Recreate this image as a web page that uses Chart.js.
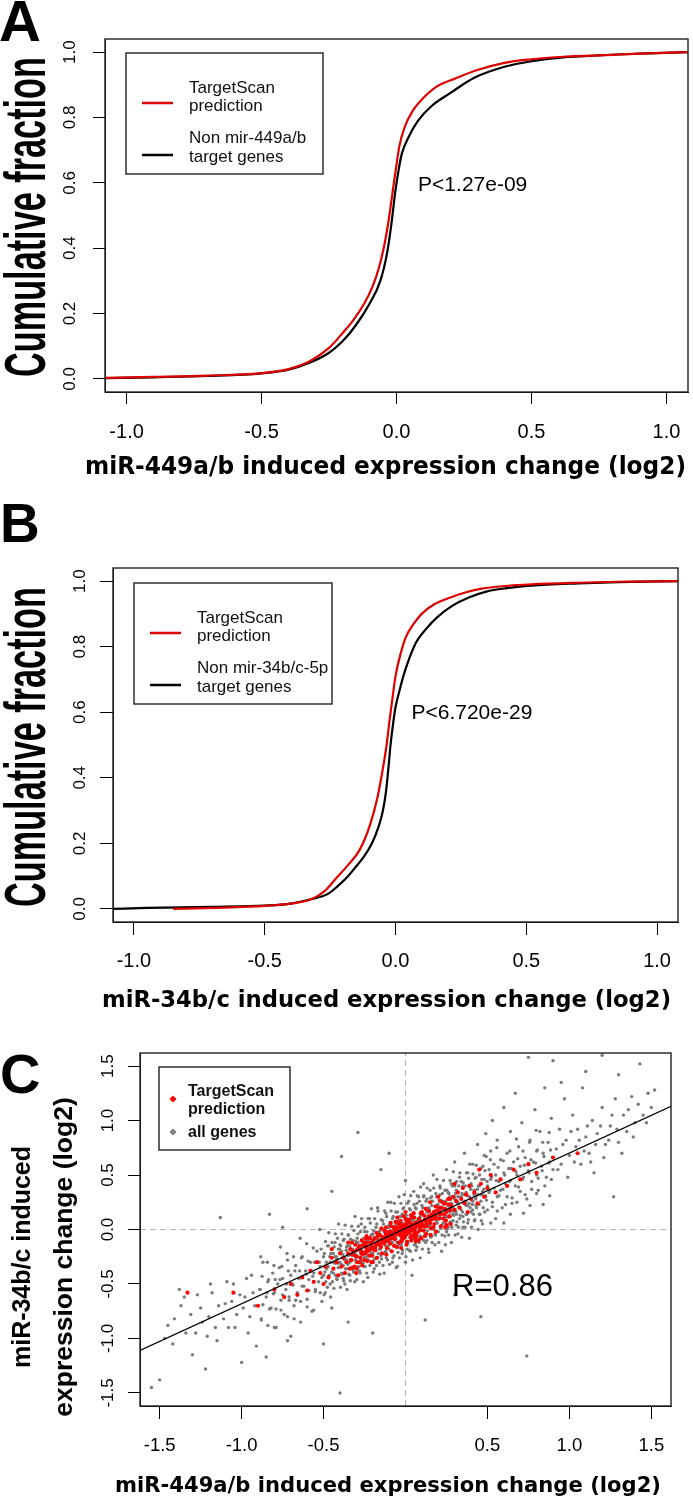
<!DOCTYPE html>
<html><head><meta charset="utf-8">
<script src="https://cdn.jsdelivr.net/npm/chart.js@4.4.1/dist/chart.umd.min.js"></script>
<style>
html,body{margin:0;padding:0;background:#fff;}
body{width:693px;height:1501px;position:relative;overflow:hidden;}
canvas{position:absolute;left:0;}
.lbl{position:absolute;font-family:'Liberation Sans',Arial,sans-serif;font-weight:bold;line-height:1;color:#000;}
</style></head><body>
<canvas id="cA" width="693" height="485" style="top:0;width:693px;height:485px"></canvas>
<canvas id="cB" width="693" height="545" style="top:485px;width:693px;height:545px"></canvas>
<canvas id="cC" width="693" height="471" style="top:1030px;width:693px;height:471px"></canvas>
<div class="lbl" style="top:-8px;left:-1px;font-size:58px">A</div>
<div class="lbl" style="top:496px;left:0;font-size:55px">B</div>
<div class="lbl" style="top:1046px;left:0;font-size:56px">C</div>
<script>
// ---------- data ----------
const cdfTicksX = [-1.0, -0.5, 0.0, 0.5, 1.0];
const cdfTicksY = [0.0, 0.2, 0.4, 0.6, 0.8, 1.0];

const aRedX = [-1.08,-0.9,-0.7,-0.5,-0.4,-0.32,-0.25,-0.2,-0.16,-0.12,-0.09,-0.065,-0.045,-0.03,-0.018,-0.008,0.0,0.01,0.03,0.06,0.1,0.15,0.22,0.3,0.4,0.5,0.6,0.75,0.9,1.08];
const aRedY = [0.003,0.006,0.01,0.018,0.03,0.055,0.095,0.14,0.18,0.23,0.28,0.34,0.41,0.48,0.55,0.61,0.655,0.71,0.77,0.82,0.86,0.895,0.92,0.945,0.967,0.978,0.985,0.99,0.995,1.0];
const aBlkX = [-1.08,-0.9,-0.7,-0.5,-0.4,-0.32,-0.25,-0.2,-0.15,-0.1,-0.06,-0.035,-0.018,-0.005,0.008,0.02,0.045,0.08,0.13,0.2,0.29,0.4,0.5,0.6,0.75,0.9,1.08];
const aBlkY = [0.002,0.005,0.009,0.017,0.028,0.05,0.08,0.115,0.165,0.23,0.3,0.385,0.48,0.57,0.64,0.69,0.74,0.79,0.835,0.875,0.922,0.955,0.972,0.982,0.99,0.995,1.0];

const bRedX = [-0.85,-0.7,-0.5,-0.4,-0.32,-0.27,-0.226,-0.18,-0.137,-0.1,-0.069,-0.05,-0.034,-0.022,-0.012,0.0,0.02,0.04,0.07,0.1,0.15,0.21,0.27,0.33,0.42,0.52,0.7,0.85,1.08];
const bRedY = [0.0,0.003,0.009,0.016,0.03,0.055,0.094,0.135,0.18,0.25,0.34,0.42,0.5,0.58,0.64,0.71,0.78,0.83,0.87,0.9,0.93,0.95,0.966,0.977,0.985,0.99,0.995,0.998,1.0];
const bBlkX = [-1.08,-0.95,-0.7,-0.5,-0.4,-0.32,-0.26,-0.22,-0.188,-0.15,-0.12,-0.09,-0.065,-0.048,-0.036,-0.027,-0.019,-0.01,0.0,0.015,0.03,0.053,0.08,0.118,0.16,0.218,0.28,0.347,0.42,0.52,0.7,0.85,1.08];
const bBlkY = [0.0,0.003,0.006,0.01,0.016,0.03,0.045,0.07,0.094,0.13,0.16,0.2,0.25,0.3,0.36,0.43,0.5,0.56,0.615,0.665,0.71,0.765,0.815,0.855,0.89,0.925,0.95,0.968,0.978,0.986,0.993,0.997,1.0];

const legendA = [['TargetScan','prediction'],['Non mir-449a/b','target genes']];
const legendB = [['TargetScan','prediction'],['Non mir-34b/c-5p','target genes']];
const pTextA = 'P<1.27e-09';
const pTextB = 'P<6.720e-29';

const scatTicksX = [-1.5, -1.0, -0.5, 0.5, 1.0, 1.5];
const scatTicksY = [-1.5, -1.0, -0.5, 0.0, 0.5, 1.0, 1.5];
const fitX = [-1.62, 1.62];
const fitY = [-1.11, 1.13];
const rText = 'R=0.86';
const legendC = [['TargetScan','prediction'],['all genes']];

const grayPts = [
[-1.55,-1.45],[-1.5,-1.38],[-1.45,-0.88],[-1.42,-1.05],[-1.38,-0.55],[-1.35,-0.62],[-1.3,-1.15],[-1.28,-0.95],[-1.25,-0.72],[-1.22,-1.28],[-1.2,-0.8],[-1.18,-0.58],[-1.15,-1.02],[-1.13,0.11],[-1.1,-0.68],[-1.08,-0.9],[-1.05,-0.5],[-1.03,-0.78],[-1.0,-1.22],[-0.98,-0.62],[-0.96,-0.95],[-0.94,-0.42],[-0.92,-0.7],[-0.91,-1.07],
[-0.89,-0.55],[-0.88,-0.82],[-0.87,-0.3],[-0.85,-1.17],[-0.85,-0.62],[-0.84,-0.48],[-0.83,0.14],[-0.82,-0.72],[-0.81,-0.4],[-0.8,-0.58],[-0.79,-0.9],[-0.78,-0.5],[-0.77,-0.35],[-0.76,-0.65],[-0.75,-0.45],[-0.74,-0.78],[-0.73,-0.55],[-0.72,-0.28],[-0.71,-0.62],[-0.7,-0.42],[-0.7,-0.98],[-0.69,-0.5],[-0.68,-0.7],[-0.67,-0.33],[-0.66,-0.58],[-0.65,-0.45],[-0.64,-0.85],[-0.63,-0.25],[-0.62,-0.52],[-0.61,-0.38],[-0.6,0.19],[-0.6,-0.64],[-0.59,-0.46],[-0.58,-0.3],[-0.57,-0.75],[-0.56,-0.4],[-0.55,-0.55],[-0.54,-0.2],[-0.53,-0.48],[-0.52,-0.34],[-0.51,-0.66],[-0.5,-0.42],[-0.5,-0.25],[-0.49,-0.58],[-0.48,-0.36],[-0.47,-0.15],[-0.46,-0.5],[-0.46,-0.3],[-0.45,-0.72],[-0.4,-1.5],[-0.72,-1.02],
[-0.44,-0.4],[-0.44,-0.22],[-0.43,-0.31],[-0.43,-0.12],[-0.42,-0.45],[-0.42,-0.27],[-0.41,-0.35],[-0.41,-0.18],
[-0.4,-0.3],[-0.39,-0.4],[-0.39,-0.2],[-0.38,-0.1],[-0.38,-0.33],[-0.37,-0.26],[-0.37,-0.5],[-0.36,-0.16],
[-0.36,-0.36],[-0.35,-0.24],[-0.35,-0.05],[-0.34,-0.3],[-0.34,-0.42],[-0.33,-0.18],[-0.33,-0.28],[-0.32,-0.1],[-0.32,-0.37],
[-0.31,-0.22],[-0.31,-0.48],[-0.3,-0.14],[-0.3,-0.3],[-0.29,-0.04],[-0.29,-0.25],[-0.28,-0.38],[-0.28,-0.18],[-0.27,0.05],[-0.27,-0.28],
[-0.26,-0.12],[-0.26,-0.22],[-0.25,-0.34],[-0.25,-0.02],[-0.24,-0.16],[-0.24,-0.26],[-0.23,-0.44],[-0.23,-0.08],[-0.22,-0.2],[-0.22,0.1],[-0.21,-0.3],
[-0.21,-0.12],[-0.2,-0.04],[-0.2,-0.22],[-0.19,-0.36],[-0.19,-0.15],[-0.18,0.02],[-0.18,-0.26],[-0.17,-0.09],[-0.17,0.2],[-0.16,-0.18],[-0.16,-0.3],
[-0.15,-0.06],[-0.15,-0.12],[-0.14,0.08],[-0.14,-0.22],[-0.13,-0.02],[-0.13,-0.4],[-0.12,-0.15],[-0.12,0.15],[-0.11,-0.08],[-0.11,-0.28],[-0.1,0.04],
[-0.1,-0.18],[-0.09,-0.05],[-0.09,0.25],[-0.08,-0.12],[-0.08,0.1],[-0.07,-0.24],[-0.07,0.0],[-0.06,-0.08],[-0.06,0.16],[-0.05,-0.34],[-0.05,0.05],
[-0.04,-0.14],[-0.04,0.3],[-0.03,-0.02],[-0.03,0.12],[-0.02,-0.22],[-0.02,0.06],[-0.01,-0.08],[-0.01,0.2],[0.0,-0.3],[0.0,0.02],[0.0,0.45],
[0.01,-0.12],[0.01,0.1],[0.02,-0.04],[0.02,0.26],[0.03,-0.2],[0.03,0.04],[0.04,0.14],[0.04,-0.42],[0.05,-0.08],[0.05,0.35],[0.06,0.0],
[0.06,0.2],[0.07,-0.16],[0.07,0.08],[0.08,-0.02],[0.08,0.3],[0.09,0.12],[0.09,-0.26],[0.1,0.04],[0.1,0.22],[0.11,-0.1],[0.11,0.42],
[0.12,0.1],[0.12,-0.04],[0.13,0.28],[0.13,0.16],[0.14,-0.18],[0.14,0.05],[0.15,0.36],[0.15,0.12],[0.16,-0.06],[0.16,0.22],[0.17,0.02],
[0.17,0.5],[0.18,0.14],[0.18,-0.14],[0.19,0.3],[0.19,0.08],[0.2,0.2],[0.2,-0.02],[0.21,0.4],[0.21,0.12],[0.22,-0.2],[0.22,0.26],
[0.23,0.06],[0.23,0.18],[0.24,0.36],[0.24,-0.06],[0.25,0.12],[0.25,0.55],[0.26,0.22],[0.26,0.02],[0.27,0.3],[0.27,0.16],[0.28,-0.12],
[0.28,0.42],[0.29,0.2],[0.29,0.08],[0.3,0.28],[0.3,0.62],[0.31,0.14],[0.31,0.36],[0.32,-0.04],[0.32,0.24],[0.33,0.48],[0.33,0.1],
[0.34,0.3],[0.34,0.18],[0.35,0.4],[0.35,0.02],[0.36,0.26],[0.36,0.7],[0.37,0.14],[0.37,0.34],[0.38,0.52],[0.38,0.22],[0.39,-0.08],
[0.39,0.3],[0.4,0.42],[0.4,0.16],[0.41,0.6],[0.41,0.26],[0.42,0.36],[0.42,0.08],[0.43,0.48],[0.43,0.22],[0.44,0.32],[0.44,0.78],[0.45,0.14],
[-0.43,-0.25],[-0.4,-0.14],[-0.38,-0.45],[-0.36,-0.28],[-0.34,-0.15],[-0.32,-0.24],[-0.3,-0.36],[-0.29,-0.12],[-0.27,-0.2],[-0.26,-0.31],[-0.24,-0.1],[-0.23,-0.24],[-0.21,-0.05],[-0.2,-0.16],[-0.19,-0.27],[-0.17,-0.13],[-0.16,-0.02],[-0.15,-0.24],[-0.13,-0.09],[-0.12,-0.2],[-0.11,0.02],[-0.1,-0.12],[-0.08,-0.3],[-0.07,-0.06],[-0.06,0.04],[-0.05,-0.16],[-0.04,0.08],[-0.03,-0.1],[-0.02,0.14],[-0.01,-0.04],[0.0,0.1],[0.01,-0.18],[0.02,0.02],[0.03,0.18],[0.04,-0.06],[0.05,0.08],[0.06,-0.14],[0.07,0.24],[0.08,0.04],[0.09,-0.06],[0.1,0.14],[0.11,0.3],[0.12,0.02],[0.13,-0.1],[0.14,0.2],[0.15,0.04],[0.16,0.3],[0.17,0.12],[0.18,-0.04],[0.19,0.22],[0.2,0.1],[0.21,0.32],[0.22,0.04],[0.23,0.26],[0.24,0.12],[0.25,-0.02],[0.26,0.34],[0.27,0.06],[0.28,0.24],[0.29,0.14],[0.3,0.4],[0.31,0.04],[0.32,0.3],[0.33,0.2],[0.34,0.44],[0.35,0.12],[0.36,0.32],[0.37,0.22],[0.38,0.06],[0.39,0.4],[0.41,0.18],[0.43,0.3],
[0.45,0.4],[0.46,0.56],[0.46,0.26],[0.47,0.35],[0.47,0.05],[0.48,0.46],[0.48,0.68],[0.49,0.3],[0.49,0.88],[0.5,0.4],[0.5,0.18],[0.51,0.55],[0.51,0.34],[0.52,0.72],[0.52,0.46],[0.53,0.25],[0.53,1.0],[0.54,0.38],[0.54,0.6],[0.55,0.5],[0.55,0.1],[0.56,0.3],[0.56,0.82],[0.57,0.44],[0.58,0.64],[0.58,0.36],[0.59,0.2],[0.6,0.52],[0.6,1.12],[0.61,0.42],[0.62,0.7],[0.62,0.3],[0.63,0.56],[0.64,0.9],[0.64,0.45],[0.65,0.24],[0.66,0.62],[0.67,0.4],[0.67,1.25],[0.68,0.5],[0.69,0.76],[0.7,0.35],[0.7,0.58],[0.71,0.98],[0.72,0.48],[0.73,0.66],[0.74,0.28],[0.74,-1.16],[0.75,0.54],[0.75,1.58],[0.76,0.82],[0.77,0.44],[0.78,0.62],[0.79,1.1],[0.8,0.5],[0.8,0.72],[0.81,0.36],[0.82,0.9],[0.83,0.58],[0.84,0.7],[0.85,1.3],[0.86,0.48],[0.87,0.8],[0.88,0.62],[0.89,1.02],[0.9,0.55],[0.9,1.55],
[0.92,0.74],[0.94,0.92],[0.95,0.6],[0.97,1.2],[0.98,0.82],[1.0,0.68],[1.02,1.05],[1.04,0.76],[1.05,0.92],[1.07,0.6],[1.08,1.3],[1.1,0.85],[1.12,0.7],[1.14,1.0],[1.15,0.52],[1.17,0.88],[1.2,1.12],[1.2,1.6],[1.22,0.78],[1.25,0.95],[1.27,0.3],[1.28,1.2],[1.3,0.8],[1.33,1.05],[1.35,0.9],[1.38,1.22],[1.4,0.98],[1.43,1.52],[1.45,1.05],[1.48,1.25],[1.5,1.12],[1.52,1.28],[1.1,1.45],[0.95,1.35],[1.3,1.42],
[0.12,-0.83],[0.46,-0.8],[-0.2,-0.95],[-0.5,-1.05],[-0.35,-0.85],[0.3,-0.6],[-0.75,0.02],[-0.39,0.67],[-0.29,0.89],[-0.15,0.55],[-0.45,0.35],[-0.1,0.7],
[-0.497,-0.6],[-0.486,-0.48],[-0.492,-0.39],[-0.482,-0.3],[-0.495,-0.22],[-0.488,-0.11],
[-0.477,-0.53],[-0.466,-0.42],[-0.472,-0.34],[-0.462,-0.25],[-0.475,-0.15],[-0.468,-0.03],
[-0.457,-0.62],[-0.446,-0.48],[-0.452,-0.39],[-0.442,-0.3],[-0.455,-0.22],[-0.448,-0.12],
[-0.437,-0.54],[-0.426,-0.42],[-0.432,-0.3],[-0.422,-0.25],[-0.435,-0.16],[-0.428,-0.04],
[-0.417,-0.46],[-0.406,-0.35],[-0.412,-0.31],[-0.402,-0.18],[-0.415,-0.08],[-0.408,0.05],
[-0.397,-0.53],[-0.386,-0.41],[-0.392,-0.32],[-0.382,-0.23],[-0.395,-0.15],[-0.388,-0.04],
[-0.377,-0.47],[-0.366,-0.36],[-0.372,-0.28],[-0.362,-0.19],[-0.375,-0.09],[-0.368,0.04],
[-0.357,-0.55],[-0.346,-0.41],[-0.352,-0.32],[-0.342,-0.23],[-0.355,-0.15],[-0.348,-0.05],
[-0.337,-0.47],[-0.326,-0.35],[-0.332,-0.23],[-0.322,-0.18],[-0.335,-0.09],[-0.328,0.03],
[-0.317,-0.39],[-0.306,-0.28],[-0.312,-0.24],[-0.302,-0.11],[-0.315,-0.01],[-0.308,0.12],
[-0.297,-0.46],[-0.286,-0.34],[-0.292,-0.25],[-0.282,-0.16],[-0.295,-0.08],[-0.288,0.03],
[-0.277,-0.4],[-0.266,-0.29],[-0.272,-0.21],[-0.262,-0.12],[-0.275,-0.02],[-0.268,0.1],
[-0.257,-0.48],[-0.246,-0.34],[-0.252,-0.25],[-0.242,-0.16],[-0.255,-0.08],[-0.248,0.02],
[-0.237,-0.4],[-0.226,-0.28],[-0.232,-0.16],[-0.222,-0.11],[-0.235,-0.02],[-0.228,0.1],
[-0.217,-0.33],[-0.206,-0.22],[-0.212,-0.18],[-0.202,-0.05],[-0.215,0.06],[-0.208,0.19],
[-0.197,-0.39],[-0.186,-0.27],[-0.192,-0.18],[-0.182,-0.09],[-0.195,-0.01],[-0.188,0.1],
[-0.177,-0.33],[-0.166,-0.22],[-0.172,-0.14],[-0.162,-0.05],[-0.175,0.05],[-0.168,0.17],
[-0.157,-0.41],[-0.146,-0.27],[-0.152,-0.18],[-0.142,-0.09],[-0.155,-0.01],[-0.148,0.09],
[-0.137,-0.33],[-0.126,-0.21],[-0.132,-0.09],[-0.122,-0.04],[-0.135,0.05],[-0.128,0.17],
[-0.117,-0.26],[-0.106,-0.15],[-0.112,-0.11],[-0.102,0.02],[-0.115,0.12],[-0.108,0.25],
[-0.097,-0.32],[-0.086,-0.2],[-0.092,-0.11],[-0.082,-0.02],[-0.095,0.06],[-0.088,0.17],
[-0.077,-0.26],[-0.066,-0.15],[-0.072,-0.07],[-0.062,0.02],[-0.075,0.12],[-0.068,0.24],
[-0.057,-0.35],[-0.046,-0.21],[-0.052,-0.12],[-0.042,-0.03],[-0.055,0.06],[-0.048,0.16],
[-0.037,-0.26],[-0.026,-0.14],[-0.032,-0.02],[-0.022,0.03],[-0.035,0.12],[-0.028,0.24],
[-0.017,-0.19],[-0.006,-0.08],[-0.012,-0.04],[-0.002,0.09],[-0.015,0.19],[-0.008,0.32],
[0.003,-0.25],[0.014,-0.13],[0.008,-0.04],[0.018,0.05],[0.005,0.13],[0.012,0.24],
[0.023,-0.19],[0.034,-0.08],[0.028,0.0],[0.038,0.09],[0.025,0.19],[0.032,0.31],
[0.043,-0.28],[0.054,-0.14],[0.048,-0.05],[0.058,0.05],[0.045,0.13],[0.052,0.23],
[0.063,-0.19],[0.074,-0.07],[0.068,0.05],[0.078,0.1],[0.065,0.19],[0.072,0.31],
[0.083,-0.12],[0.094,-0.01],[0.088,0.03],[0.098,0.16],[0.085,0.26],[0.092,0.39],
[0.103,-0.18],[0.114,-0.06],[0.108,0.03],[0.118,0.12],[0.105,0.2],[0.112,0.31],
[0.123,-0.12],[0.134,-0.01],[0.128,0.07],[0.138,0.16],[0.125,0.26],[0.132,0.38],
[0.143,-0.21],[0.154,-0.07],[0.148,0.02],[0.158,0.11],[0.145,0.19],[0.152,0.29],
[0.163,-0.12],[0.174,0.0],[0.168,0.12],[0.178,0.17],[0.165,0.26],[0.172,0.38],
[0.183,-0.05],[0.194,0.06],[0.188,0.1],[0.198,0.23],[0.185,0.33],[0.192,0.46],
[0.203,-0.12],[0.214,0.01],[0.208,0.1],[0.218,0.19],[0.205,0.27],[0.212,0.38],
[0.223,-0.05],[0.234,0.06],[0.228,0.14],[0.238,0.23],[0.225,0.33],[0.232,0.45],
[0.243,-0.14],[0.254,0.0],[0.248,0.09],[0.258,0.18],[0.245,0.26],[0.252,0.36],
[0.263,-0.05],[0.274,0.07],[0.268,0.19],[0.278,0.24],[0.265,0.33],[0.272,0.45],
[0.283,0.02],[0.294,0.13],[0.288,0.17],[0.298,0.3],[0.285,0.4],[0.292,0.53],
[0.303,-0.05],[0.314,0.07],[0.308,0.16],[0.318,0.25],[0.305,0.33],[0.312,0.44],
[0.323,0.02],[0.334,0.13],[0.328,0.21],[0.338,0.3],[0.325,0.4],[0.332,0.52],
[0.343,-0.07],[0.354,0.07],[0.348,0.16],[0.358,0.25],[0.345,0.33],[0.352,0.43],
[0.363,0.02],[0.374,0.14],[0.368,0.26],[0.378,0.31],[0.365,0.4],[0.372,0.52],
[0.383,0.09],[0.394,0.2],[0.388,0.24],[0.398,0.37],[0.385,0.47],[0.392,0.6],
[0.403,0.02],[0.414,0.14],[0.408,0.23],[0.418,0.32],[0.405,0.4],[0.412,0.51],
[0.423,0.09],[0.434,0.2],[0.428,0.28],[0.438,0.37],[0.425,0.47],[0.432,0.59],
[0.443,0.0],[0.454,0.14],[0.448,0.23],[0.458,0.32],[0.445,0.4],[0.452,0.5],
[0.463,0.08],[0.474,0.2],[0.468,0.32],[0.478,0.37],[0.465,0.46],[0.472,0.58],
[0.483,0.16],[0.494,0.27],[0.488,0.31],[0.498,0.44],[0.485,0.54],[0.492,0.67],
[0.52,0.06],[0.53,0.21],[0.515,0.36],[0.525,0.48],[0.518,0.64],
[0.56,0.17],[0.57,0.31],[0.554,0.45],[0.565,0.57],[0.557,0.75],
[0.6,0.06],[0.61,0.23],[0.594,0.37],[0.605,0.5],[0.597,0.63],
[0.64,0.14],[0.65,0.29],[0.634,0.44],[0.645,0.56],[0.637,0.72],
[0.68,0.25],[0.69,0.39],[0.674,0.53],[0.685,0.65],[0.677,0.83],
[0.72,0.15],[0.73,0.32],[0.714,0.46],[0.725,0.59],[0.717,0.72],
[0.76,0.22],[0.77,0.37],[0.754,0.52],[0.765,0.64],[0.757,0.8],
[0.8,0.33],[0.81,0.47],[0.794,0.61],[0.805,0.73],[0.797,0.91],
[0.84,0.23],[0.85,0.4],[0.834,0.54],[0.845,0.67],[0.837,0.8],
[0.88,0.31],[0.89,0.46],[0.874,0.61],[0.885,0.73],[0.877,0.89],
[-0.52,-0.58],[-0.51,-0.44],[-0.526,-0.3],[-0.515,-0.18],[-0.523,0.0],
[-0.56,-0.74],[-0.55,-0.57],[-0.566,-0.43],[-0.555,-0.3],[-0.563,-0.17],
[-0.6,-0.71],[-0.59,-0.56],[-0.606,-0.41],[-0.595,-0.29],[-0.603,-0.13],
[-0.64,-0.66],[-0.63,-0.52],[-0.646,-0.38],[-0.635,-0.26],[-0.643,-0.08],
[-0.68,-0.82],[-0.67,-0.65],[-0.686,-0.51],[-0.675,-0.38],[-0.683,-0.25],
[-0.72,-0.8],[-0.71,-0.65],[-0.726,-0.5],[-0.715,-0.38],[-0.723,-0.22],
[-0.76,-0.74],[-0.75,-0.6],[-0.766,-0.46],[-0.755,-0.34],[-0.763,-0.16],
[-0.8,-0.9],[-0.79,-0.73],[-0.806,-0.59],[-0.795,-0.46],[-0.803,-0.33],
[-0.84,-0.88],[-0.83,-0.73],[-0.846,-0.58],[-0.835,-0.46],[-0.843,-0.3],
[-0.88,-0.83],[-0.87,-0.69],[-0.886,-0.55],[-0.875,-0.43],[-0.883,-0.25],
[0.93,0.55],[0.96,0.78],[0.99,0.48],[1.01,0.9],[1.03,0.62],[1.06,0.82],[1.09,0.72],[1.11,0.95],[1.13,0.62],[1.16,0.78],[1.19,0.95],[1.21,0.66],[1.24,0.82],[1.26,1.05],[1.29,0.92],[1.32,0.7],[1.36,1.1],[1.39,0.85],[1.42,1.15],[1.47,0.98],
[-0.93,-0.58],[-0.95,-0.8],[-0.97,-0.45],[-0.99,-0.72],[-1.01,-0.6],[-1.04,-0.9],[-1.06,-0.66],[-1.09,-0.48],[-1.11,-0.82],[-1.14,-0.7],[-1.16,-0.9],[-1.19,-0.5],[-1.21,-0.98],[-1.24,-0.85],[-1.27,-0.6],[-1.31,-0.78],[-1.34,-0.95],[-1.37,-0.7],[-1.41,-0.82],[-1.47,-1.0]
];

const redPts = [
[-0.02,0.0],[0.0,0.03],[0.02,-0.02],[-0.04,-0.03],[0.01,0.06],[-0.01,-0.06],[0.03,0.02],[-0.03,0.04],[0.05,0.0],[-0.05,-0.01],[0.0,-0.03],[0.04,0.05],[-0.06,-0.05],[0.02,0.09],[-0.02,-0.09],[0.06,0.04],[-0.07,0.02],[0.07,-0.03],[-0.08,-0.08],[0.03,-0.07],[-0.03,0.08],[0.08,0.07],[-0.09,-0.02],[0.09,0.01],[-0.1,-0.06],[0.1,0.06],[-0.04,-0.12],[0.04,0.11],[-0.11,-0.1],[0.11,-0.01],[-0.12,-0.04],[0.12,0.09],[-0.13,-0.13],[0.13,0.03],[-0.14,-0.07],[0.14,0.12],[-0.01,0.12],[0.01,-0.11],[-0.06,0.07],[0.06,-0.08],[-0.15,-0.16],[0.15,0.06],[-0.16,-0.1],[0.16,0.14],[-0.17,-0.06],[0.05,0.15],[-0.07,-0.15],[0.08,-0.1],[-0.09,0.06],[0.1,0.16],[-0.18,-0.14],[0.18,0.1],[-0.19,-0.19],[0.17,0.02],[-0.2,-0.1],[0.19,0.17],[0.0,0.16],[-0.12,0.02],[0.12,-0.06],[-0.05,0.11],
[-0.21,-0.16],[-0.22,-0.24],[-0.23,-0.12],[-0.24,-0.2],[-0.25,-0.28],[-0.26,-0.15],[-0.27,-0.22],[-0.28,-0.3],[-0.29,-0.18],[-0.3,-0.25],[-0.31,-0.34],[-0.32,-0.2],[-0.33,-0.28],[-0.34,-0.36],[-0.35,-0.22],[-0.36,-0.3],[-0.37,-0.4],[-0.38,-0.26],[-0.39,-0.34],[-0.4,-0.22],[-0.41,-0.42],[-0.42,-0.3],[-0.44,-0.36],[-0.45,-0.26],[-0.47,-0.44],[-0.49,-0.34],[-0.5,-0.5],[-0.52,-0.4],[-0.54,-0.3],[-0.56,-0.48],[-0.58,-0.38],[-0.6,-0.56],[-0.63,-0.44],[-0.66,-0.6],[-0.7,-0.5],[-0.74,-0.62],[-0.8,-0.55],[-0.9,-0.7],[-1.05,-0.58],[-0.24,-0.08],[-0.3,-0.4],[-0.35,-0.12],[-0.2,-0.3],[-0.45,-0.18],[-1.33,-0.58],
[0.21,0.14],[0.22,0.2],[0.23,0.1],[0.24,0.24],[0.25,0.16],[0.26,0.28],[0.27,0.12],[0.28,0.22],[0.29,0.3],[0.3,0.18],[0.31,0.26],[0.32,0.34],[0.33,0.2],[0.34,0.28],[0.35,0.38],[0.36,0.24],[0.37,0.32],[0.38,0.16],[0.39,0.4],[0.4,0.28],[0.42,0.34],[0.44,0.24],[0.46,0.42],[0.48,0.3],[0.5,0.38],[0.52,0.5],[0.55,0.34],[0.58,0.46],[0.62,0.4],[0.66,0.55],[0.7,0.46],[0.75,0.6],[0.8,0.52],[0.9,0.66],[1.05,0.7],[0.25,0.04],[0.3,0.42],[0.2,0.3],[0.15,0.25],[0.45,0.55],
[-0.324,-0.35],[-0.334,-0.28],[-0.328,-0.23],[-0.337,-0.18],[-0.327,-0.12],
[-0.294,-0.3],[-0.304,-0.24],[-0.298,-0.19],[-0.307,-0.14],[-0.297,-0.36],
[-0.264,-0.33],[-0.274,-0.26],[-0.268,-0.2],[-0.277,-0.15],[-0.267,-0.1],
[-0.234,-0.29],[-0.244,-0.22],[-0.238,-0.17],[-0.247,-0.12],[-0.237,-0.06],
[-0.204,-0.24],[-0.214,-0.18],[-0.208,-0.13],[-0.217,-0.08],[-0.207,-0.3],
[-0.174,-0.26],[-0.184,-0.19],[-0.178,-0.13],[-0.187,-0.08],[-0.177,-0.03],
[-0.144,-0.22],[-0.154,-0.15],[-0.148,-0.1],[-0.157,-0.05],[-0.147,0.01],
[-0.114,-0.17],[-0.124,-0.11],[-0.118,-0.06],[-0.127,-0.01],[-0.117,-0.23],
[-0.084,-0.2],[-0.094,-0.13],[-0.088,-0.07],[-0.097,-0.02],[-0.087,0.03],
[-0.054,-0.16],[-0.064,-0.09],[-0.058,-0.04],[-0.067,0.01],[-0.057,0.07],
[-0.024,-0.11],[-0.034,-0.05],[-0.028,0.0],[-0.037,0.05],[-0.027,-0.17],
[0.006,-0.14],[-0.004,-0.07],[0.002,-0.01],[-0.007,0.04],[0.003,0.09],
[0.036,-0.1],[0.026,-0.03],[0.032,0.02],[0.023,0.07],[0.033,0.13],
[0.066,-0.05],[0.056,0.01],[0.062,0.06],[0.053,0.11],[0.063,-0.11],
[0.096,-0.08],[0.086,-0.01],[0.092,0.05],[0.083,0.1],[0.093,0.15],
[0.126,-0.04],[0.116,0.03],[0.122,0.08],[0.113,0.13],[0.123,0.19],
[0.156,0.01],[0.146,0.07],[0.152,0.12],[0.143,0.17],[0.153,-0.05],
[0.186,-0.02],[0.176,0.05],[0.182,0.11],[0.173,0.16],[0.183,0.21],
[0.216,0.03],[0.206,0.1],[0.212,0.15],[0.203,0.2],[0.213,0.26],
[0.246,0.08],[0.236,0.14],[0.242,0.19],[0.233,0.24],[0.243,0.02],
[0.276,0.05],[0.266,0.12],[0.272,0.18],[0.263,0.23],[0.273,0.28],
[-0.015,0.015],[0.015,-0.015],[-0.035,-0.045],[0.035,0.035],[-0.055,0.015],[0.055,-0.025],[-0.025,-0.065],[0.025,0.065],[-0.065,-0.025],[0.065,0.025],[-0.045,0.055],[0.045,-0.055],[-0.005,0.045],[0.005,-0.045],[-0.075,-0.065],[0.075,0.055],[-0.085,-0.035],[0.085,0.035],[-0.035,0.025],[0.035,-0.005],[-0.095,-0.085],[0.095,0.075],[-0.105,-0.025],[0.105,0.035],[-0.015,-0.025],[0.015,0.025],[-0.125,-0.085],[0.125,0.045],[-0.145,-0.115],[0.145,0.085],[-0.165,-0.135],[0.165,0.095],[-0.185,-0.165],[-0.205,-0.125],[-0.225,-0.195],[-0.245,-0.145],[-0.265,-0.225],[-0.285,-0.165],[0.185,0.125],[0.205,0.165]
];

// ---------- styling helpers ----------
const SANS = "'Liberation Sans', Arial, sans-serif";
const DEJ = "'DejaVu Sans', sans-serif";
const RED = '#dd0000';
Chart.defaults.font.family = SANS;
Chart.defaults.color = '#000';

const zip = (xs, ys) => xs.map((x, i) => ({x: x, y: ys[i]}));
const pts = arr => arr.map(p => ({x: p[0], y: p[1]}));
const fmt = v => Number(v).toFixed(1);

function axisX(min, max, ticks, o) {
  return {
    type: 'linear', position: 'bottom', min: min, max: max,
    afterBuildTicks: s => { s.ticks = ticks.map(v => ({value: v})); },
    afterFit: s => { s.height = o.h; s.paddingLeft = 0; s.paddingRight = 0; },
    ticks: { callback: fmt, font: {family: SANS, size: o.fs}, color: '#000', padding: o.pad, autoSkip: false, maxRotation: 0, minRotation: 0 },
    grid: { drawOnChartArea: false, drawTicks: true, tickLength: o.tl, color: '#000', lineWidth: 1 },
    border: { display: true, color: '#000', width: 1 }
  };
}
function axisY(min, max, ticks, o) {
  return {
    type: 'linear', position: 'left', min: min, max: max,
    afterBuildTicks: s => { s.ticks = ticks.map(v => ({value: v})); },
    afterFit: s => { s.width = o.w; s.paddingTop = 0; s.paddingBottom = 0; },
    ticks: { callback: fmt, font: {family: SANS, size: o.fs}, color: '#000', padding: o.pad, autoSkip: false, minRotation: 90, maxRotation: 90, crossAlign: 'center' },
    grid: { drawOnChartArea: false, drawTicks: true, tickLength: o.tl, color: '#000', lineWidth: 1 },
    border: { display: true, color: '#000', width: 1 }
  };
}

const framePlugin = {
  id: 'frame',
  afterDatasetsDraw(chart) {
    const ctx = chart.ctx, a = chart.chartArea;
    ctx.save(); ctx.strokeStyle = '#222'; ctx.lineWidth = 1.4;
    ctx.strokeRect(a.left, a.top, a.right - a.left, a.bottom - a.top);
    ctx.restore();
  }
};

function textPlugin(items) {
  return {
    id: 'texts',
    afterDraw(chart) {
      const ctx = chart.ctx;
      items.forEach(t => {
        ctx.save();
        ctx.font = t.font; ctx.fillStyle = t.color || '#000';
        ctx.textAlign = t.align || 'left'; ctx.textBaseline = t.baseline || 'alphabetic';
        let x = t.x, y = t.y;
        if (t.data) { x = chart.scales.x.getPixelForValue(t.x); y = chart.scales.y.getPixelForValue(t.y); }
        ctx.translate(x, y);
        if (t.rot) ctx.rotate(t.rot);
        if (t.maxWidth) ctx.fillText(t.text, 0, 0, t.maxWidth); else ctx.fillText(t.text, 0, 0);
        ctx.restore();
      });
    }
  };
}

function lineLegend(box, entries, colors, L) {
  return {
    id: 'lineLegend',
    afterDraw(chart) {
      const ctx = chart.ctx;
      ctx.save();
      ctx.strokeStyle = '#222'; ctx.lineWidth = 1.4;
      ctx.strokeRect(box.x, box.y, box.w, box.h);
      ctx.font = '17px ' + SANS; ctx.fillStyle = '#111';
      ctx.textAlign = 'left'; ctx.textBaseline = 'middle';
      entries.forEach((lines, i) => {
        ctx.strokeStyle = colors[i]; ctx.lineWidth = 2.5;
        ctx.beginPath(); ctx.moveTo(box.x + L.x1, box.y + L.ly[i]); ctx.lineTo(box.x + L.x2, box.y + L.ly[i]); ctx.stroke();
        lines.forEach((t, j) => ctx.fillText(t, box.x + L.tx, box.y + L.ty[i][j]));
      });
      ctx.restore();
    }
  };
}

function makeCdf(id, c) {
  return new Chart(document.getElementById(id), {
    type: 'line',
    data: { datasets: [
      { label: c.legend[0].join(' '), data: zip(c.redX, c.redY), borderColor: RED, borderWidth: 2.2, pointRadius: 0, cubicInterpolationMode: 'monotone', fill: false },
      { label: c.legend[1].join(' '), data: zip(c.blkX, c.blkY), borderColor: '#000', borderWidth: 2.2, pointRadius: 0, cubicInterpolationMode: 'monotone', fill: false }
    ]},
    options: {
      responsive: false, animation: false, devicePixelRatio: 1, events: [],
      layout: { padding: { top: c.top, right: c.right, left: 0, bottom: 0 } },
      plugins: { legend: { display: false }, tooltip: { enabled: false } },
      scales: {
        x: axisX(-1.08, 1.08, cdfTicksX, c.xo),
        y: axisY(-0.04, 1.04, cdfTicksY, c.yo)
      }
    },
    plugins: [framePlugin,
      lineLegend(c.box, c.legend, [RED, '#000'], {x1: 16, x2: 47, tx: 63, ly: [50, 102], ty: [[35, 53], [85, 104]]}),
      textPlugin(c.texts)]
  });
}

makeCdf('cA', {
  redX: aRedX, redY: aRedY, blkX: aBlkX, blkY: aBlkY, legend: legendA,
  top: 39, right: 5,
  xo: {h: 93, fs: 20, pad: 16, tl: 12},
  yo: {w: 105, fs: 17, pad: 11, tl: 12},
  box: {x: 126, y: 53, w: 197, h: 121},
  texts: [
    {text: 'Cumulative fraction', x: 45, y: 217, rot: -Math.PI / 2, align: 'center', font: 'bold 57px ' + SANS, maxWidth: 320},
    {text: 'miR-449a/b induced expression change (log2)', x: 85, y: 474, font: 'bold 24px ' + DEJ, maxWidth: 601},
    {text: pTextA, data: true, x: 0.08, y: 0.592, baseline: 'middle', font: '21px ' + SANS}
  ]
});

makeCdf('cB', {
  redX: bRedX, redY: bRedY, blkX: bBlkX, blkY: bBlkY, legend: legendB,
  top: 83, right: 15,
  xo: {h: 108, fs: 20, pad: 14, tl: 13},
  yo: {w: 113, fs: 17, pad: 8, tl: 13},
  box: {x: 134, y: 98, w: 198, h: 121},
  texts: [
    {text: 'Cumulative fraction', x: 45, y: 262, rot: -Math.PI / 2, align: 'center', font: 'bold 57px ' + SANS, maxWidth: 320},
    {text: 'miR-34b/c induced expression change (log2)', x: 102, y: 522, font: 'bold 23.5px ' + DEJ, maxWidth: 569},
    {text: pTextB, data: true, x: 0.061, y: 0.598, baseline: 'middle', font: '21px ' + SANS}
  ]
});

// ---------- panel C ----------
const cLim = 1.62;
const scatterLegend = {
  id: 'scatLegend',
  afterDraw(chart) {
    const ctx = chart.ctx, bx = 159, by = 37;
    ctx.save();
    ctx.strokeStyle = '#222'; ctx.lineWidth = 1.4;
    ctx.strokeRect(bx, by, 131, 83);
    const dia = (x, y, r, col) => { ctx.fillStyle = col; ctx.beginPath(); ctx.moveTo(x, y - r); ctx.lineTo(x + r, y); ctx.lineTo(x, y + r); ctx.lineTo(x - r, y); ctx.closePath(); ctx.fill(); };
    dia(bx + 14, by + 32, 3.6, '#ff0000');
    dia(bx + 14, by + 65, 3.6, '#808080');
    ctx.font = 'bold 16px ' + SANS; ctx.fillStyle = '#111'; ctx.textAlign = 'left'; ctx.textBaseline = 'middle';
    ctx.fillText(legendC[0][0], bx + 29, by + 25);
    ctx.fillText(legendC[0][1], bx + 29, by + 43);
    ctx.fillText(legendC[1][0], bx + 29, by + 66);
    ctx.restore();
  }
};

new Chart(document.getElementById('cC'), {
  type: 'scatter',
  data: { datasets: [
    { label: 'fit', data: zip(fitX, fitY), showLine: true, borderColor: '#000', borderWidth: 1.3, pointRadius: 0 },
    { label: 'TargetScan prediction', data: pts(redPts), backgroundColor: '#ff0000', borderWidth: 0, pointRadius: 2.1 },
    { label: 'all genes', data: pts(grayPts), backgroundColor: '#7a7a7a', borderWidth: 0, pointRadius: 1.7 },
    { label: 'y=0', data: [{x: -cLim, y: 0}, {x: cLim, y: 0}], showLine: true, borderColor: '#b4b4b4', borderDash: [6, 4], borderWidth: 1, pointRadius: 0 },
    { label: 'x=0', data: [{x: 0, y: -cLim}, {x: 0, y: cLim}], showLine: true, borderColor: '#b4b4b4', borderDash: [6, 4], borderWidth: 1, pointRadius: 0 }
  ]},
  options: {
    responsive: false, animation: false, devicePixelRatio: 1, events: [],
    layout: { padding: { top: 23, right: 22, left: 0, bottom: 0 } },
    plugins: { legend: { display: false }, tooltip: { enabled: false } },
    scales: {
      x: axisX(-cLim, cLim, scatTicksX, {h: 95, fs: 18.5, pad: 16, tl: 13}),
      y: axisY(-cLim, cLim, scatTicksY, {w: 140, fs: 17, pad: 5, tl: 12})
    }
  },
  plugins: [framePlugin, scatterLegend, textPlugin([
    {text: 'miR-34b/c induced', x: 30, y: 227, rot: -Math.PI / 2, align: 'center', font: 'bold 25px ' + SANS, maxWidth: 222},
    {text: 'expression change (log2)', x: 72, y: 227, rot: -Math.PI / 2, align: 'center', font: 'bold 26.5px ' + SANS, maxWidth: 320},
    {text: 'miR-449a/b induced expression change (log2)', x: 115, y: 462, font: 'bold 21.8px ' + DEJ, maxWidth: 546},
    {text: rText, data: true, x: 0.284, y: -0.532, baseline: 'middle', font: '31px ' + SANS}
  ])]
});
</script>
</body></html>
